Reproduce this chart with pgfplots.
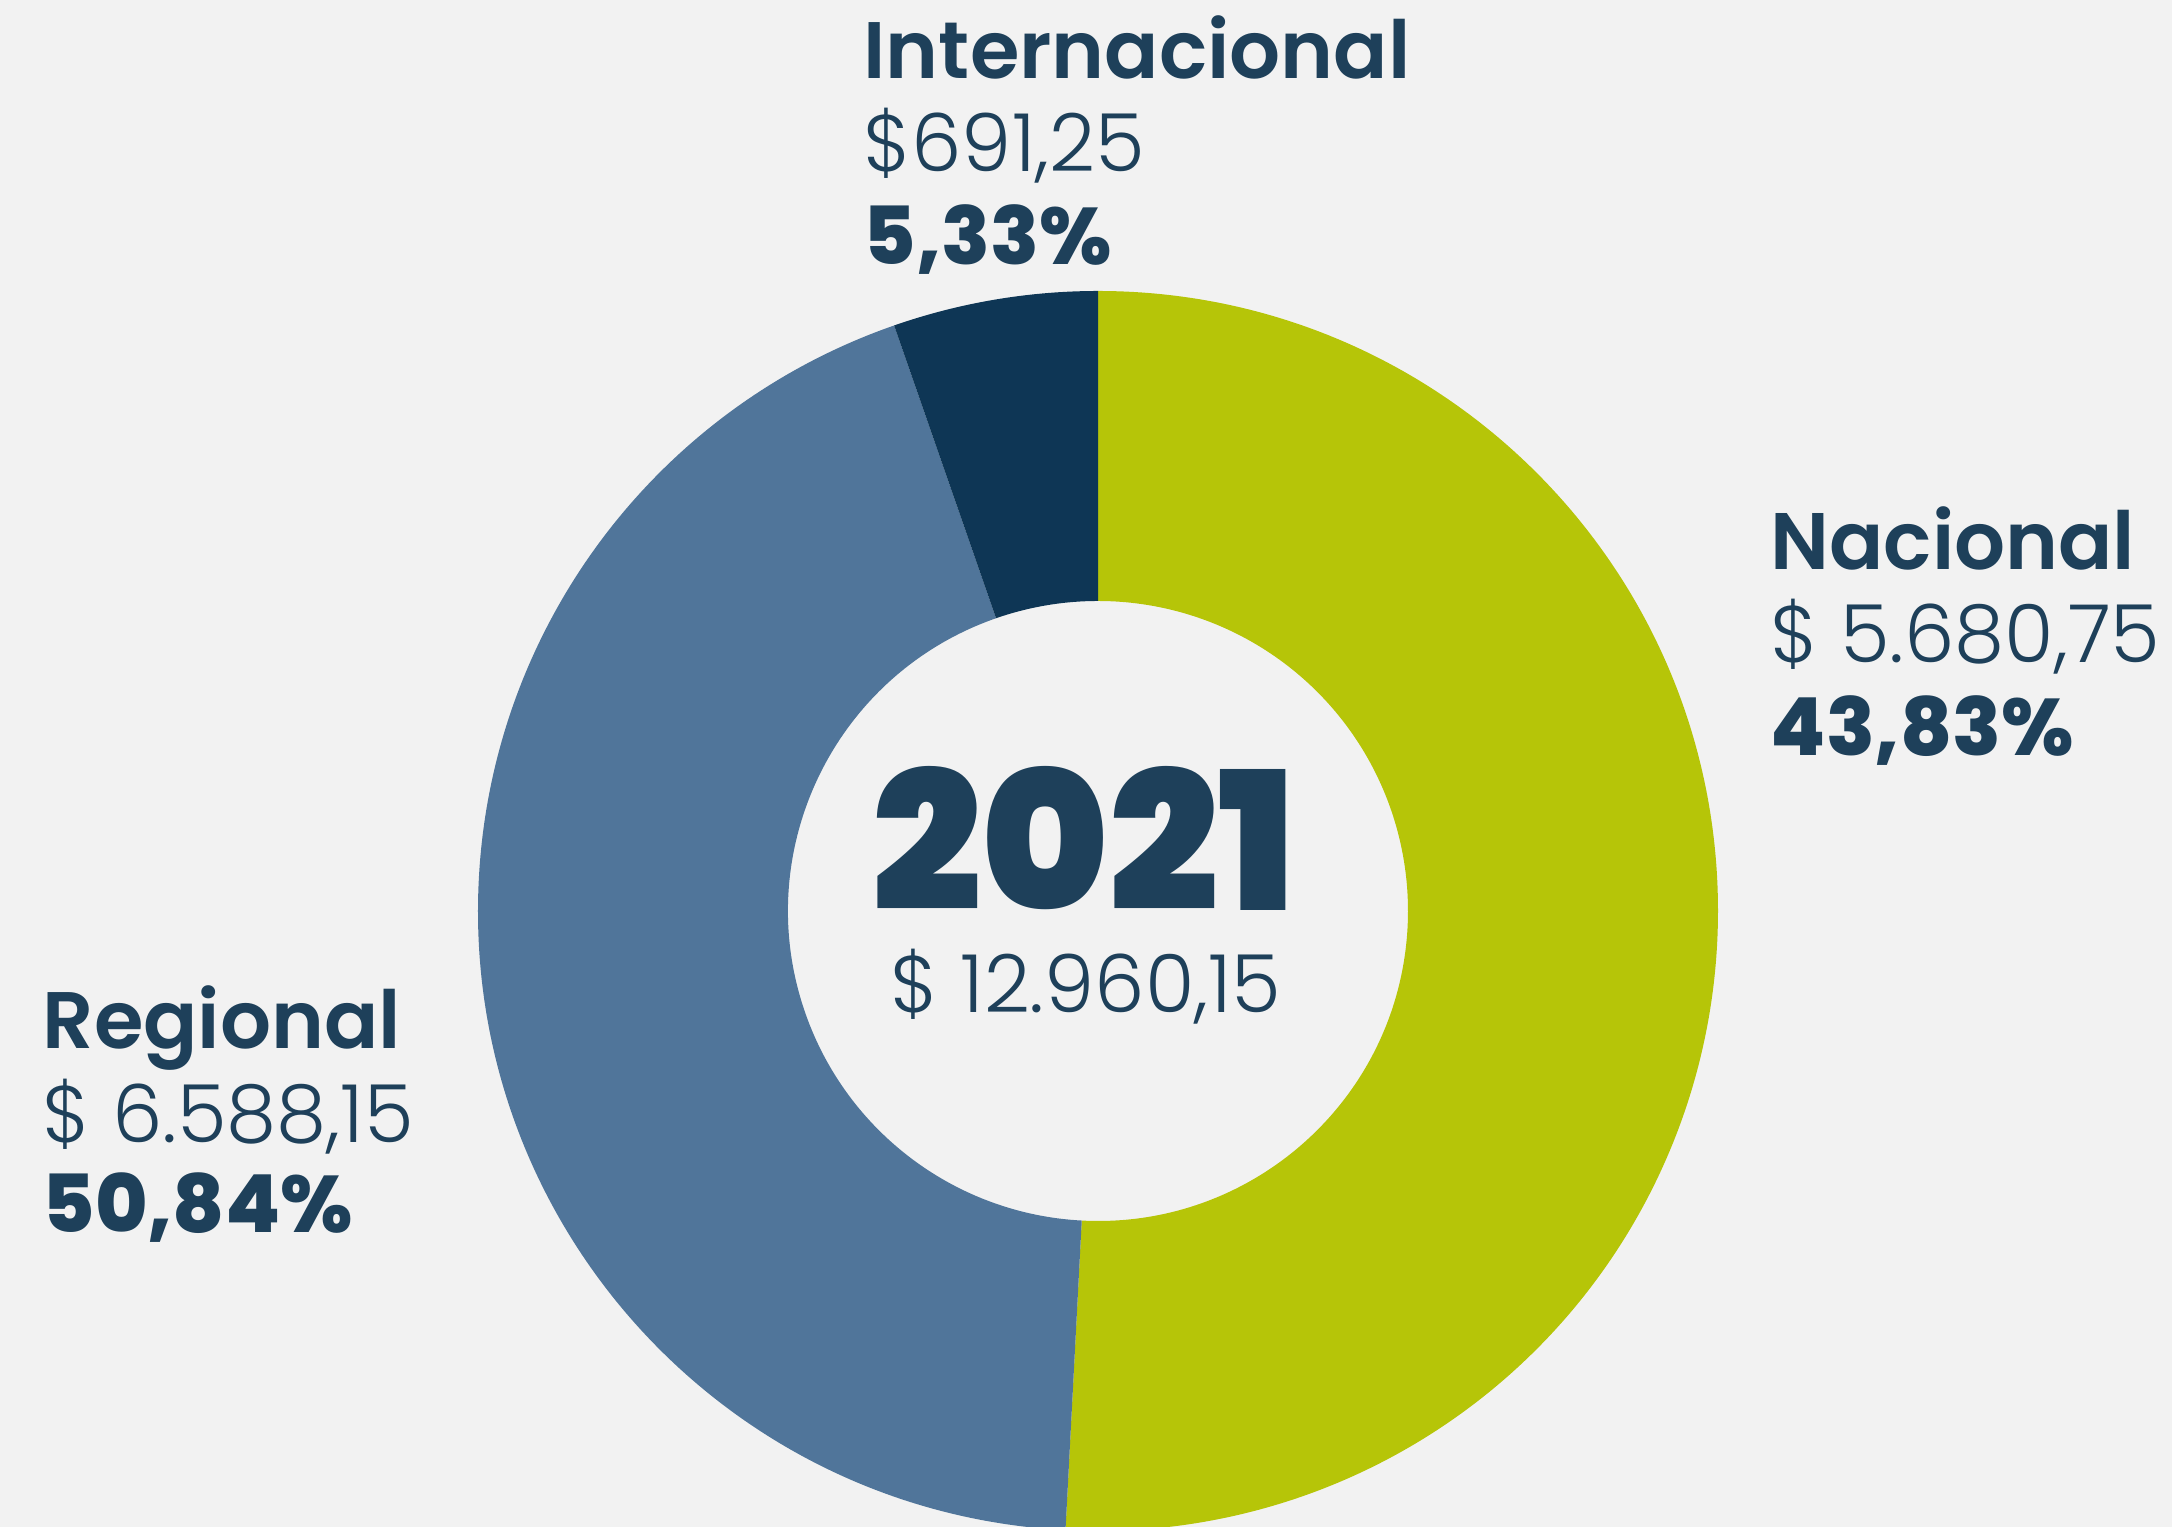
\documentclass[border=0pt]{standalone}
\usepackage{pgfplots}
\pgfplotsset{compat=1.18}
\usepackage{pgfplotstable}
\usepackage{fontspec}
\setmainfont{Poppins}[UprightFont=* Light, BoldFont=* SemiBold]
\newfontfamily\heavy{Poppins}[UprightFont=* ExtraBold]
\newfontfamily\blackf{Poppins}[UprightFont=* Black]

\definecolor{bg}{HTML}{F2F2F2}
\definecolor{cverde}{HTML}{B6C508}
\definecolor{cazul}{HTML}{50759A}
\definecolor{cmarino}{HTML}{0E3655}
\definecolor{txt}{HTML}{1E405A}

% slices as drawn, clockwise from the top
\pgfplotstableread{
slice value
verde 6588.15
azul 5680.75
marino 691.25
}\donut
\pgfplotstablegetelem{0}{value}\of\donut\edef\va{\pgfplotsretval}
\pgfplotstablegetelem{1}{value}\of\donut\edef\vb{\pgfplotsretval}
\pgfplotstablegetelem{2}{value}\of\donut\edef\vc{\pgfplotsretval}
\pgfmathsetmacro\tot{\va+\vb+\vc}
\pgfmathsetmacro\aA{90-360*(\va/\tot)}
\pgfmathsetmacro\aB{\aA-360*(\vb/\tot)}
\pgfmathsetmacro\aC{\aB-360*(\vc/\tot)}
\def\ro{6.2cm}
\def\ri{3.1cm}

\begin{document}
\begin{tikzpicture}
\begin{axis}[
    scale only axis,
    width=21.72cm, height=15.27cm,
    xmin=0, xmax=2172, ymin=0, ymax=1527,
    hide axis,
]
\fill[bg] (axis cs:0,0) rectangle (axis cs:2172,1527);
\begin{scope}[shift={(axis cs:1098,616)}]
  \fill[cverde] (90:\ro) arc[start angle=90, end angle=\aA, radius=\ro]
     -- (\aA:\ri) arc[start angle=\aA, end angle=90, radius=\ri] -- cycle;
  \fill[cazul] (\aA:\ro) arc[start angle=\aA, end angle=\aB, radius=\ro]
     -- (\aB:\ri) arc[start angle=\aB, end angle=\aA, radius=\ri] -- cycle;
  \fill[cmarino] (\aB:\ro) arc[start angle=\aB, end angle=\aC, radius=\ro]
     -- (\aC:\ri) arc[start angle=\aC, end angle=\aB, radius=\ri] -- cycle;
\end{scope}

\tikzset{lab/.style={anchor=base west, inner sep=0, text=txt, font=\fontsize{22.8}{27}\selectfont}}
% Internacional
\node[lab, font=\fontsize{22.8}{27}\selectfont\bfseries] at (axis cs:863,1448) {Internacional};
\node[lab] at (axis cs:863,1355) {\$691,25};
\node[lab, font=\fontsize{22.8}{27}\selectfont\heavy] at (axis cs:863,1262) {5,33\%};
% Nacional
\node[lab, font=\fontsize{22.8}{27}\selectfont\bfseries] at (axis cs:1770,957) {Nacional};
\node[lab] at (axis cs:1770,864) {\$ 5.680,75};
\node[lab, font=\fontsize{22.8}{27}\selectfont\heavy] at (axis cs:1770,771) {43,83\%};
% Regional
\node[lab, font=\fontsize{22.8}{27}\selectfont\bfseries] at (axis cs:42,478) {Regional};
\node[lab] at (axis cs:42,384) {\$ 6.588,15};
\node[lab, font=\fontsize{22.8}{27}\selectfont\heavy] at (axis cs:42,294) {50,84\%};
% centre
\node[anchor=base, inner sep=0, text depth=0pt, text=txt, font=\fontsize{54.9}{60}\selectfont\blackf] at (axis cs:1084,616) {2021};
\node[anchor=base, inner sep=0, text height=0.75em, text=txt, font=\fontsize{22.8}{27}\selectfont] at (axis cs:1086,514) {\$ 12.960,15};
\end{axis}
\pgfresetboundingbox
\path[use as bounding box] (current axis.south west) rectangle (current axis.north east);
\end{tikzpicture}
\end{document}
